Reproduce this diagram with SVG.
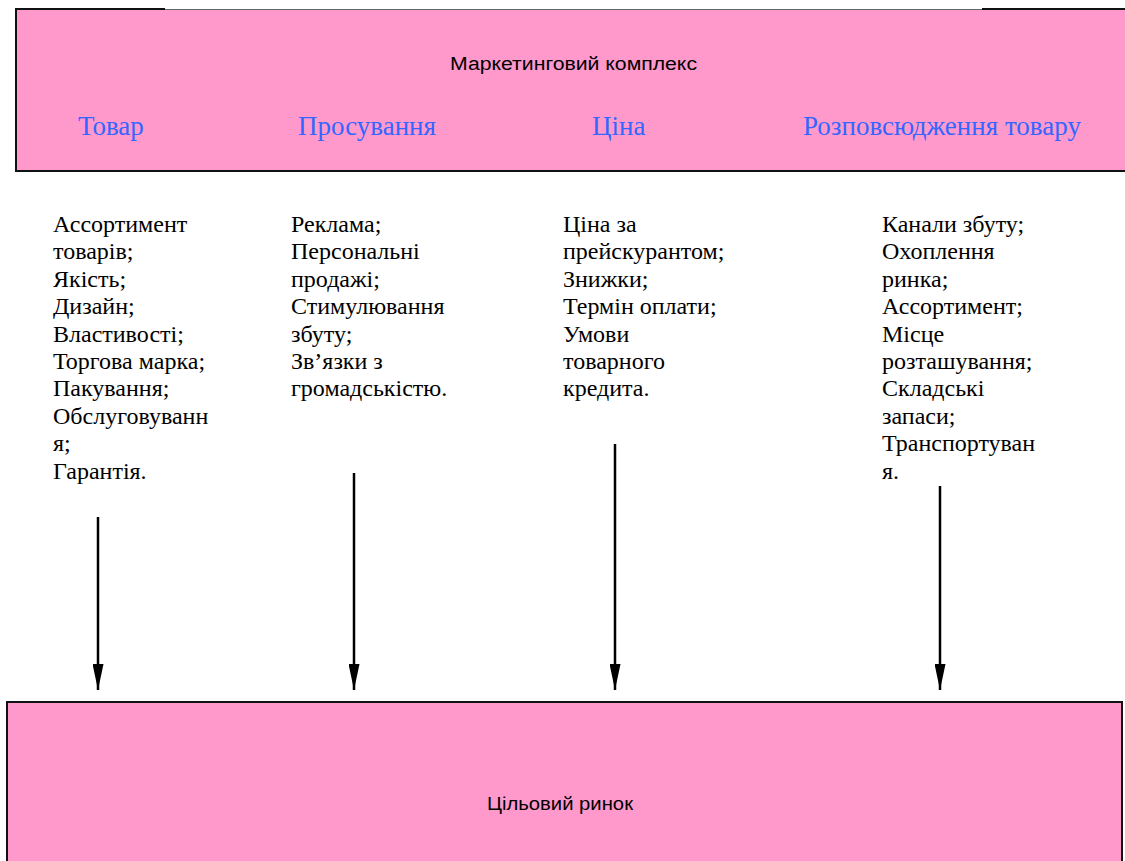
<svg xmlns="http://www.w3.org/2000/svg" width="1125" height="861" viewBox="0 0 1125 861">
<defs>
<style>
.box{fill:#FF99CC;stroke:#111;stroke-width:2}
.head{font-family:"Liberation Serif","Times New Roman",serif;font-size:27px;fill:#3366FF}
.item{font-family:"Liberation Serif","Times New Roman",serif;font-size:24px;fill:#000}
.title{font-family:"Liberation Sans",Arial,sans-serif;font-size:18px;fill:#000}
.conn{stroke:#000;stroke-width:2.5;fill:none;marker-end:url(#ah)}
</style>
<marker id="ah" markerWidth="26" markerHeight="11" refX="26" refY="5.5" orient="auto" markerUnits="userSpaceOnUse" viewBox="0 0 26 11">
<path d="M0,0 L26,5.5 L0,11 Z" fill="#000"/>
</marker>
</defs>
<rect width="1125" height="861" fill="#fff"/>
<g id="marketing-complex">
<rect x="16" y="9" width="1120" height="162" class="box"/>
<line x1="165" y1="9" x2="982" y2="9" stroke="#666" stroke-width="2"/>
<line x1="165" y1="8.5" x2="982" y2="8.5" stroke="#fff" stroke-width="1"/>
<text x="450" y="70" class="title" textLength="247" lengthAdjust="spacingAndGlyphs">Маркетинговий комплекс</text>
<text x="78" y="135" class="head">Товар</text>
<text x="298" y="135" class="head">Просування</text>
<text x="592" y="135" class="head">Ціна</text>
<text x="803" y="135" class="head">Розповсюдження товару</text>
</g>
<g id="col-product">
<text class="item" x="53" y="232">
<tspan x="53" dy="0">Ассортимент</tspan>
<tspan x="53" dy="27.4">товарів;</tspan>
<tspan x="53" dy="27.4">Якість;</tspan>
<tspan x="53" dy="27.4">Дизайн;</tspan>
<tspan x="53" dy="27.4">Властивості;</tspan>
<tspan x="53" dy="27.4">Торгова марка;</tspan>
<tspan x="53" dy="27.4">Пакування;</tspan>
<tspan x="53" dy="27.4">Обслуговуванн</tspan>
<tspan x="53" dy="27.4">я;</tspan>
<tspan x="53" dy="27.4">Гарантія.</tspan>
</text>
</g>
<g id="col-promotion">
<text class="item" x="291" y="232">
<tspan x="291" dy="0">Реклама;</tspan>
<tspan x="291" dy="27.4">Персональні</tspan>
<tspan x="291" dy="27.4">продажі;</tspan>
<tspan x="291" dy="27.4">Стимулювання</tspan>
<tspan x="291" dy="27.4">збуту;</tspan>
<tspan x="291" dy="27.4">Зв’язки з</tspan>
<tspan x="291" dy="27.4">громадськістю.</tspan>
</text>
</g>
<g id="col-price">
<text class="item" x="563" y="232">
<tspan x="563" dy="0">Ціна за</tspan>
<tspan x="563" dy="27.4">прейскурантом;</tspan>
<tspan x="563" dy="27.4">Знижки;</tspan>
<tspan x="563" dy="27.4">Термін оплати;</tspan>
<tspan x="563" dy="27.4">Умови</tspan>
<tspan x="563" dy="27.4">товарного</tspan>
<tspan x="563" dy="27.4">кредита.</tspan>
</text>
</g>
<g id="col-distribution">
<text class="item" x="882" y="232">
<tspan x="882" dy="0">Канали збуту;</tspan>
<tspan x="882" dy="27.4">Охоплення</tspan>
<tspan x="882" dy="27.4">ринка;</tspan>
<tspan x="882" dy="27.4">Ассортимент;</tspan>
<tspan x="882" dy="27.4">Місце</tspan>
<tspan x="882" dy="27.4">розташування;</tspan>
<tspan x="882" dy="27.4">Складські</tspan>
<tspan x="882" dy="27.4">запаси;</tspan>
<tspan x="882" dy="27.4">Транспортуван</tspan>
<tspan x="882" dy="27.4">я.</tspan>
</text>
</g>
<g id="target-market">
<rect x="7" y="702" width="1115" height="170" class="box"/>
<text x="487" y="810" class="title" font-size="20" textLength="146" lengthAdjust="spacingAndGlyphs">Цільовий ринок</text>
</g>
<g id="connectors">
<line x1="98" y1="517" x2="98" y2="690" class="conn"/>
<line x1="354" y1="473" x2="354" y2="690" class="conn"/>
<line x1="615" y1="444" x2="615" y2="690" class="conn"/>
<line x1="940" y1="486" x2="940" y2="690" class="conn"/>
</g>
</svg>
